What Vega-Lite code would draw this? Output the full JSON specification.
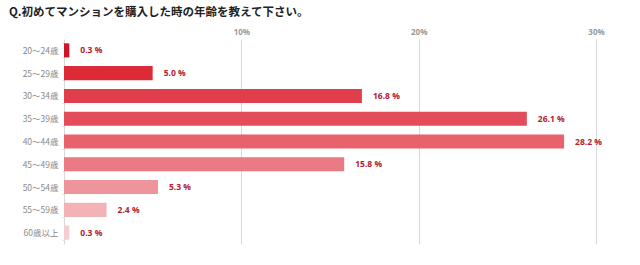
{
  "$schema": "https://vega.github.io/schema/vega-lite/v6.json",
  "width": 532,
  "height": 205,
  "autosize": {"type": "none"},
  "padding": {"left": 64, "top": 39, "right": 44, "bottom": 21},
  "background": "white",
  "title": {
    "text": "Q.初めてマンションを購入した時の年齢を教えて下さい。",
    "anchor": "start",
    "frame": "group",
    "dx": -55,
    "offset": 10,
    "font": "Noto Sans CJK JP",
    "fontSize": 11.5,
    "fontWeight": "bold",
    "color": "#222222"
  },
  "config": {
    "view": {"stroke": null},
    "font": "Noto Sans CJK JP"
  },
  "data": {
    "values": [
      {"age": "20～24歳", "pct": 0.3, "label": "0.3 %", "color": "#cf1527"},
      {"age": "25～29歳", "pct": 5.0, "label": "5.0 %", "color": "#dc2a37"},
      {"age": "30～34歳", "pct": 16.8, "label": "16.8 %", "color": "#e03e4b"},
      {"age": "35～39歳", "pct": 26.1, "label": "26.1 %", "color": "#e34d5a"},
      {"age": "40～44歳", "pct": 28.2, "label": "28.2 %", "color": "#e7626d"},
      {"age": "45～49歳", "pct": 15.8, "label": "15.8 %", "color": "#ea7a83"},
      {"age": "50～54歳", "pct": 5.3, "label": "5.3 %", "color": "#ee959b"},
      {"age": "55～59歳", "pct": 2.4, "label": "2.4 %", "color": "#f2b2b6"},
      {"age": "60歳以上", "pct": 0.3, "label": "0.3 %", "color": "#f4cfd2"}
    ]
  },
  "encoding": {
    "y": {
      "field": "age",
      "type": "nominal",
      "sort": null,
      "scale": {"paddingInner": 0.38, "paddingOuter": 0.19},
      "axis": {
        "title": null,
        "domain": true,
        "domainColor": "#d8d8d8",
        "ticks": true,
        "tickSize": 2,
        "tickColor": "#e0e0e0",
        "tickBand": "extent",
        "labelFontSize": 8.5,
        "labelColor": "#8a8a8a",
        "labelPadding": 4,
        "labelFont": "Noto Sans CJK JP"
      }
    },
    "x": {
      "field": "pct",
      "type": "quantitative",
      "scale": {"domain": [0, 30], "nice": false},
      "axis": {
        "orient": "top",
        "title": null,
        "values": [10, 20, 30],
        "labelExpr": "datum.value + '%'",
        "labelFlush": false,
        "domain": false,
        "ticks": false,
        "grid": true,
        "gridColor": "#d9d9d9",
        "gridWidth": 1,
        "labelFontSize": 8,
        "labelFontWeight": "bold",
        "labelColor": "#999999",
        "labelPadding": 3,
        "labelFont": "Open Sans"
      }
    }
  },
  "layer": [
    {
      "mark": {"type": "bar"},
      "encoding": {
        "color": {"field": "color", "type": "nominal", "scale": null}
      }
    },
    {
      "mark": {
        "type": "text",
        "align": "left",
        "baseline": "middle",
        "dx": 11,
        "fontSize": 8.5,
        "fontWeight": "bold",
        "color": "#b3202c",
        "font": "Open Sans"
      },
      "encoding": {
        "text": {"field": "label", "type": "nominal"}
      }
    }
  ]
}
